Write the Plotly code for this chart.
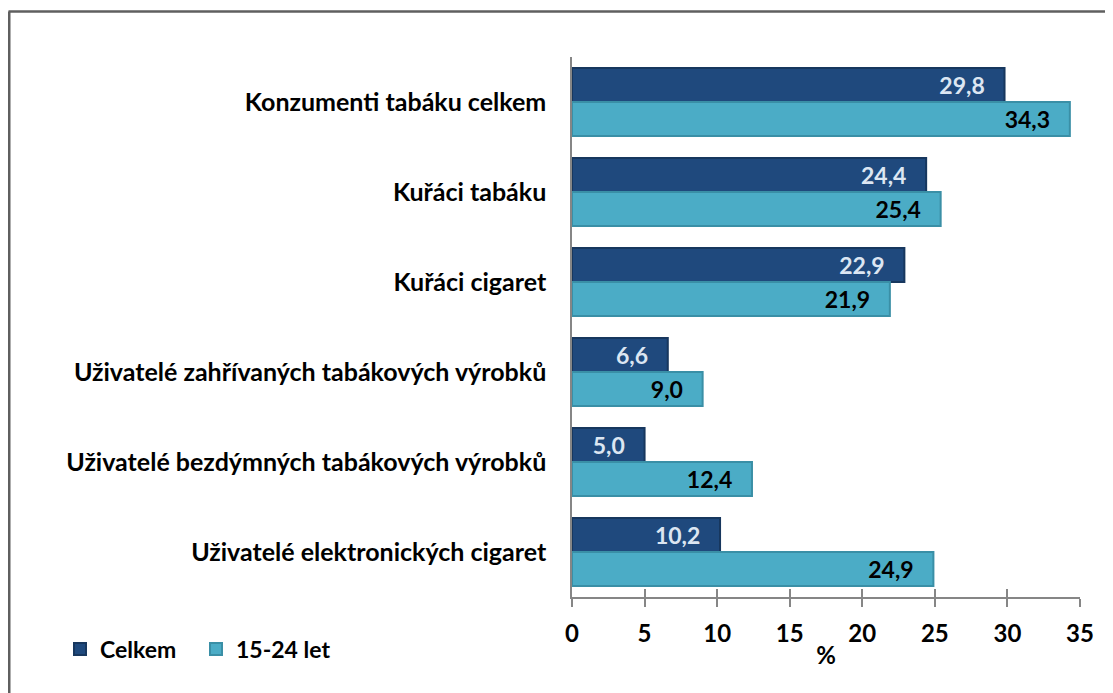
import plotly.graph_objects as go

categories = [
    "Konzumenti tabáku celkem",
    "Kuřáci tabáku",
    "Kuřáci cigaret",
    "Uživatelé zahřívaných tabákových výrobků",
    "Uživatelé bezdýmných tabákových výrobků",
    "Uživatelé elektronických cigaret",
]
celkem = [29.8, 24.4, 22.9, 6.6, 5.0, 10.2]
mladi = [34.3, 25.4, 21.9, 9.0, 12.4, 24.9]
tick_vals = [0, 5, 10, 15, 20, 25, 30, 35]

FONT = "Lato"

# page body has an 8px margin; figure placed at (8, 8)
OFF = 8
W, H = 1113 - OFF, 693 - OFF
PL, PR, PT, PB = 572 - OFF, 1080 - OFF, 57 - OFF, 597 - OFF
PW, PH = PR - PL, PB - PT


def fmt(v):
    return f"{v:.1f}".replace(".", ",") + "\u00a0\u00a0\u00a0"


def px(xabs):
    return (xabs - OFF - PL) / PW


def py(yabs):
    return (PB - (yabs - OFF)) / PH


fig = go.Figure()
fig.add_trace(go.Bar(
    y=categories, x=celkem, orientation="h", name="Celkem",
    marker=dict(color="#1F497D", line=dict(color="#17375E", width=2)),
    text=[fmt(v) for v in celkem], textposition="inside", insidetextanchor="end",
    textfont=dict(family=FONT, size=23, color="#DCE6F2", weight="bold"),
    textangle=0, cliponaxis=False,
))
fig.add_trace(go.Bar(
    y=categories, x=mladi, orientation="h", name="15-24 let",
    marker=dict(color="#4BACC6", line=dict(color="#3A8FA6", width=2)),
    text=[fmt(v) for v in mladi], textposition="inside", insidetextanchor="end",
    textfont=dict(family=FONT, size=23, color="#000000", weight="bold"),
    textangle=0, cliponaxis=False,
))

# left/top frame (decoration)
fig.add_shape(type="line", xref="paper", yref="paper",
              x0=px(8.5), x1=px(1120), y0=py(11.5), y1=py(11.5),
              line=dict(color="#5F5F5F", width=2.5))
fig.add_shape(type="line", xref="paper", yref="paper",
              x0=px(9), x1=px(9), y0=py(11.5), y1=py(700),
              line=dict(color="#5F5F5F", width=3))

fig.update_layout(
    width=W, height=H,
    margin=dict(l=PL, r=W - PR, t=PT, b=H - PB),
    paper_bgcolor="white", plot_bgcolor="white",
    barmode="group", bargap=0.244, bargroupgap=0,
    uniformtext=dict(minsize=23, mode="show"),
    font=dict(family=FONT, size=24, color="#000000", weight="bold"),
    showlegend=True,
    legend=dict(orientation="h", x=px(60), xanchor="left",
                y=py(649), yanchor="middle",
                font=dict(family=FONT, size=23, color="#000000", weight="bold"),
                itemwidth=30, entrywidth=91, entrywidthmode="pixels",
                traceorder="normal", bgcolor="rgba(0,0,0,0)"),
    xaxis=dict(range=[0, 35], tickvals=tick_vals, ticks="outside", ticklen=8,
               tickcolor="#868686", tickwidth=1.5,
               showline=True, linecolor="#868686", linewidth=1.5,
               showgrid=False, zeroline=False,
               tickfont=dict(family=FONT, size=24, color="#000000", weight="bold"),
               ticklabelstandoff=6,
               title=dict(text="%", standoff=2,
                          font=dict(family=FONT, size=24, color="#000000", weight="bold"))),
    xaxis2=dict(range=[0, 35], tickvals=tick_vals, ticks="inside", ticklen=8,
                tickcolor="#868686", tickwidth=1.5, overlaying="x", side="bottom",
                showticklabels=False, showgrid=False, zeroline=False, showline=False),
    yaxis=dict(categoryorder="array", categoryarray=categories, autorange="reversed",
               showline=True, linecolor="#868686", linewidth=1.5, ticks="",
               showgrid=False, ticklabelstandoff=19,
               tickfont=dict(family=FONT, size=25, color="#000000", weight="bold")),
)
# invisible trace to activate xaxis2 for crossing ticks
fig.add_trace(go.Scatter(x=[0], y=[categories[0]], xaxis="x2", mode="markers",
                         marker=dict(opacity=0), showlegend=False, hoverinfo="skip"))

fig.write_html("out.html")
